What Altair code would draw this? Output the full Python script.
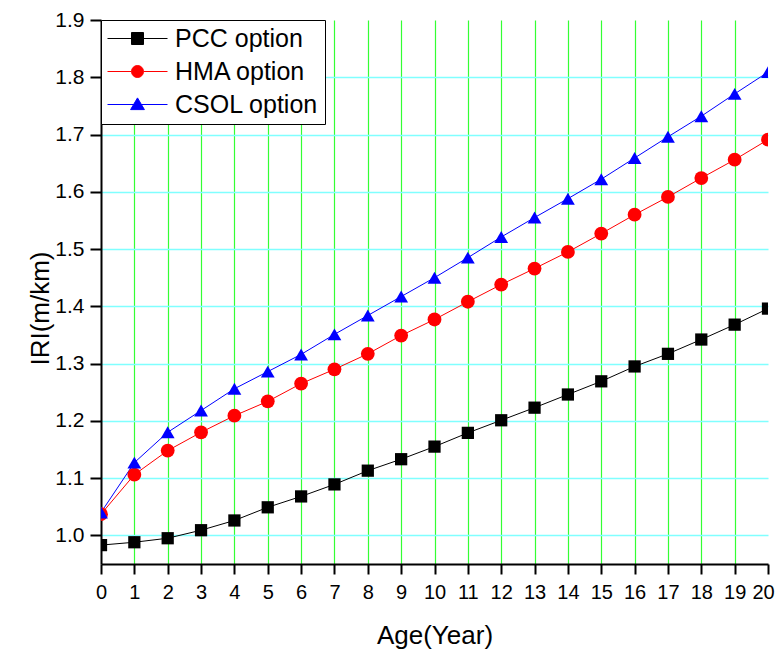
import altair as alt
import pandas as pd

years = list(range(21))
series_names = ["PCC option", "HMA option", "CSOL option"]
pcc = [0.983, 0.988, 0.995, 1.009, 1.026, 1.049, 1.068, 1.089, 1.113, 1.133, 1.155,
       1.179, 1.201, 1.223, 1.246, 1.269, 1.295, 1.317, 1.342, 1.368, 1.396]
hma = [1.037, 1.106, 1.148, 1.180, 1.209, 1.234, 1.265, 1.290, 1.317, 1.349, 1.377,
       1.408, 1.438, 1.466, 1.495, 1.527, 1.560, 1.591, 1.624, 1.656, 1.691]
csol = [1.040, 1.127, 1.180, 1.218, 1.256, 1.286, 1.316, 1.351, 1.384, 1.417, 1.450,
        1.485, 1.521, 1.555, 1.588, 1.622, 1.659, 1.696, 1.732, 1.771, 1.809]
x_ticks = [i * 0.5 for i in range(41)]
y_ticks = [round(1.0 + 0.1 * i, 1) for i in range(10)]

colors = ["#000000", "#FF0000", "#0000FF"]
shapes = ["square", "circle", "triangle-up"]
marker_sizes = [150, 190, 190]
legend_shapes = [
    "M-5,0H5M-1,-1H1V1H-1Z",
    "M-5,0H-1M1,0H5M1,0A1,1,0,1,1,-1,0A1,1,0,1,1,1,0Z",
    "M-5,0H5M0,-1.1L1.15,0.85H-1.15Z",
]

rows = []
for name, vals in zip(series_names, [pcc, hma, csol]):
    for yr, v in zip(years, vals):
        rows.append({"Age": yr, "IRI": v, "Series": name})
df = pd.DataFrame(rows)

FONT = "Liberation Sans"

x_scale = alt.Scale(domain=[0, 20], nice=False)
y_scale = alt.Scale(domain=[0.95, 1.9], nice=False, zero=False)

x_axis = alt.Axis(
    values=x_ticks, format="d",
    labelExpr="datum.value % 1 === 0 ? datum.label : ''",
    tickSize={"condition": {"test": "datum.value % 1 !== 0", "value": 4}, "value": 10},
    tickWidth={"condition": {"test": "datum.value % 1 !== 0", "value": 1}, "value": 2},
    gridOpacity={"condition": {"test": "datum.value % 1 === 0 && datum.value > 0 && datum.value < 20", "value": 1}, "value": 0},
    labelOffset={"condition": {"test": "datum.value === 20", "value": -5}, "value": 0},
    grid=True, gridColor="#33FF33", gridWidth=1.2,
    title="Age(Year)", titleFontSize=26, titleFont=FONT, titleFontWeight="normal",
    titleY=79, titleBaseline="alphabetic", titleColor="#000",
    labelFontSize=20, labelFont=FONT, labelColor="#000", labelPadding=8,
    labelFlush=False, labelOverlap=False,
    domainColor="#000", domainWidth=2, tickColor="#000",
    orient="bottom",
)
y_axis = alt.Axis(
    values=y_ticks, format=".1f",
    gridOpacity={"condition": {"test": "datum.value < 1.85", "value": 1}, "value": 0},
    grid=True, gridColor="#80FFFF", gridWidth=1.6,
    title="IRI(m/km)", titleFontSize=26, titleFont=FONT, titleFontWeight="normal",
    titleX=-53, titleY=288, titleBaseline="alphabetic", titleAngle=-90, titleColor="#000",
    labelFontSize=21, labelFont=FONT, labelColor="#000", labelPadding=6,
    labelFlush=False, labelOverlap=False,
    domainColor="#000", domainWidth=2, tickColor="#000", tickSize=11, tickWidth=2,
    orient="left",
)

layers = []
for i, name in enumerate(series_names):
    base = alt.Chart(df).transform_filter(alt.datum.Series == name)
    layers.append(base.mark_line(strokeWidth=1, clip=True, color=colors[i]).encode(
        x=alt.X("Age:Q", scale=x_scale, axis=x_axis),
        y=alt.Y("IRI:Q", scale=y_scale, axis=y_axis),
    ))
for i, name in enumerate(series_names):
    base = alt.Chart(df).transform_filter(alt.datum.Series == name)
    layers.append(base.mark_point(filled=True, opacity=1, clip=True, color=colors[i],
                                  shape=shapes[i], size=marker_sizes[i]).encode(
        x=alt.X("Age:Q", scale=x_scale, axis=x_axis),
        y=alt.Y("IRI:Q", scale=y_scale, axis=y_axis),
    ))

legend_scale = alt.Scale(domain=series_names, range=colors)
legend_layer = alt.Chart(df).transform_filter("false").mark_point(opacity=1).encode(
    x=alt.X("Age:Q", scale=x_scale, axis=x_axis),
    y=alt.Y("IRI:Q", scale=y_scale, axis=y_axis),
    fill=alt.Fill("Series:N", scale=legend_scale, legend=alt.Legend(title=None)),
    stroke=alt.Stroke("Series:N", scale=legend_scale, legend=alt.Legend(title=None)),
    shape=alt.Shape("Series:N", scale=alt.Scale(domain=series_names, range=legend_shapes),
                    legend=alt.Legend(title=None)),
)
layers.append(legend_layer)

chart = alt.layer(*layers).properties(
    width=667, height=544,
    padding={"left": 93, "top": 12, "right": 7, "bottom": 85},
    autosize=alt.AutoSizeParams(type="none"),
).configure_view(
    stroke=None
).configure_legend(
    orient="none", legendX=0, legendY=0,
    strokeColor="#000", fillColor="#FFFFFF", strokeWidth=1, cornerRadius=0,
    padding=6, symbolSize=144, symbolStrokeWidth=1, symbolOffset=18,
    labelOffset=25, labelFontSize=25, labelFont=FONT, labelColor="#000",
    rowPadding=7, labelLimit=400,
)

chart.save("out.html", embed_options={"renderer": "svg", "actions": False})
